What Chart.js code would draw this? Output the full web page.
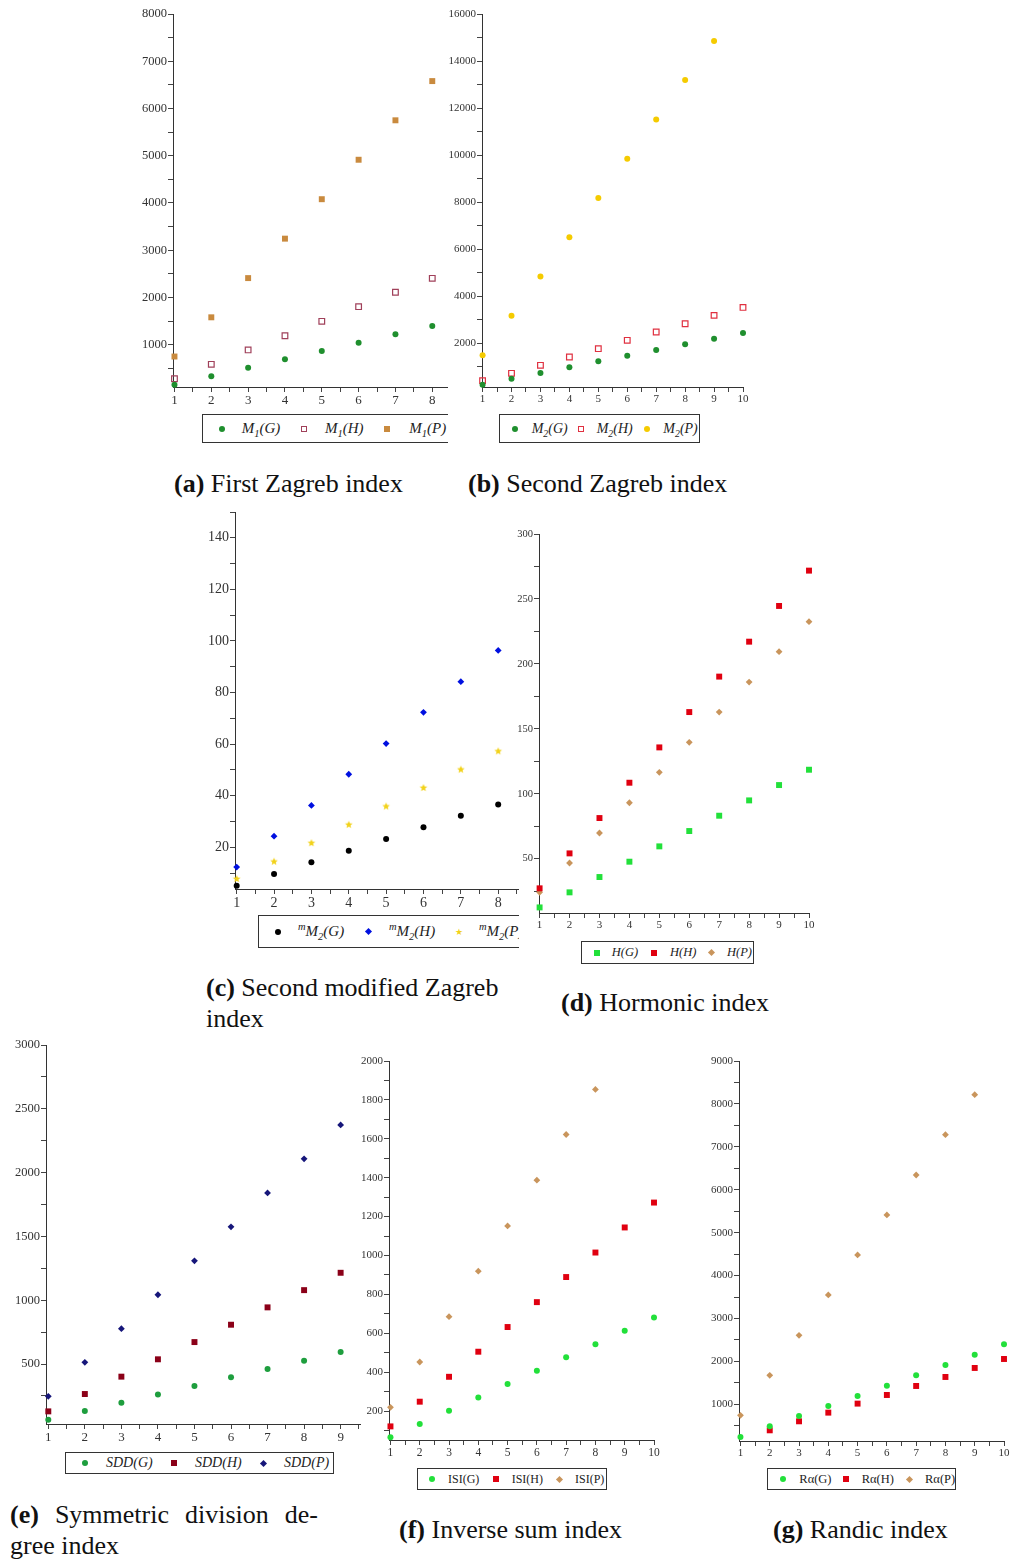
<!DOCTYPE html>
<html>
<head>
<meta charset="utf-8">
<script src="https://cdn.jsdelivr.net/npm/chart.js@4.4.0/dist/chart.umd.min.js"></script>
<style>
body { margin: 0; background: #fff; width: 1026px; height: 1559px; position: relative; overflow: hidden;
       font-family: "Liberation Serif", "Times New Roman", serif; color: #111; }
canvas { position: absolute; }
.cap { position: absolute; font-size: 26px; line-height: 31px; white-space: nowrap; }
.lg { position: absolute; border: 1.3px solid #333; box-sizing: border-box; overflow: hidden; background: #fff; }
.mk { position: absolute; box-sizing: border-box; }
.lt { position: absolute; top: 0; white-space: nowrap; color: #222; }
.sb { position: relative; top: 4px; font-size: 0.7em; }
.sp { position: relative; top: -6px; font-size: 0.7em; }
</style>
</head>
<body>
<script>
// valeurs
var xTicks8 = [1, 2, 3, 4, 5, 6, 7, 8];
var xTicks9 = [1, 2, 3, 4, 5, 6, 7, 8, 9];
var xTicks10 = [1, 2, 3, 4, 5, 6, 7, 8, 9, 10];

var yTicksA = [1000, 2000, 3000, 4000, 5000, 6000, 7000, 8000];
var yTicksB = [2000, 4000, 6000, 8000, 10000, 12000, 14000, 16000];
var yTicksC = [20, 40, 60, 80, 100, 120, 140];
var yTicksD = [50, 100, 150, 200, 250, 300];
var yTicksE = [500, 1000, 1500, 2000, 2500, 3000];
var yTicksF = [200, 400, 600, 800, 1000, 1200, 1400, 1600, 1800, 2000];
var yTicksG = [1000, 2000, 3000, 4000, 5000, 6000, 7000, 8000, 9000];

// (a) First Zagreb
var m1G = [155, 335, 515, 690, 865, 1040, 1220, 1395];
var m1H = [280, 585, 890, 1190, 1495, 1805, 2110, 2405];
var m1P = [750, 1580, 2410, 3245, 4080, 4915, 5750, 6580];
// (b) Second Zagreb
var m2G = [228, 483, 724, 965, 1220, 1461, 1702, 1943, 2184, 2425];
var m2H = [400, 710, 1050, 1405, 1760, 2115, 2470, 2820, 3175, 3515];
var m2P = [1475, 3165, 4835, 6495, 8170, 9840, 11515, 13190, 14850];
// (c) Second modified Zagreb
var mm2G = [5.1, 9.6, 14.2, 18.6, 23.2, 27.7, 32.2, 36.6];
var mm2H = [12.3, 24.3, 36.2, 48.3, 60.2, 72.3, 84.2, 96.3];
var mm2P = [7.7, 14.4, 21.6, 28.7, 35.8, 43.0, 50.1, 57.2];
// (d) Harmonic
var hG = [12.5, 24.1, 35.9, 47.7, 59.5, 71.3, 83.1, 94.9, 106.7, 118.5];
var hH = [27.2, 54.1, 81.3, 108.5, 135.7, 162.9, 190.2, 217.1, 244.6, 271.8];
var hP = [24.1, 46.7, 69.8, 93.1, 116.5, 139.6, 162.9, 186.0, 209.4, 232.5];
// (e) SDD
var sddG = [64, 132, 197, 262, 328, 396, 461, 526, 594];
var sddH = [129, 265, 401, 537, 672, 808, 944, 1079, 1215];
var sddP = [247, 513, 777, 1043, 1309, 1575, 1841, 2108, 2374];
// (f) ISI
var isiG = [65, 133, 202, 270, 339, 407, 476, 544, 613, 681];
var isiH = [121, 248, 376, 505, 632, 760, 889, 1015, 1144, 1272];
var isiP = [219, 452, 685, 919, 1152, 1387, 1622, 1854];
// (g) Randic
var raG = [239, 487, 728, 961, 1194, 1435, 1676, 1917, 2157, 2398];
var raH = [null, 394, 604, 806, 1016, 1217, 1427, 1637, 1847, 2056];
var raP = [744, 1676, 2608, 3548, 4480, 5412, 6344, 7283, 8216];

function pts(arr) {
  var out = [];
  for (var i = 0; i < arr.length; i++) {
    if (arr[i] != null) out.push({ x: i + 1, y: arr[i] });
  }
  return out;
}

function starImg(color, r) {
  var c = document.createElement("canvas");
  var s = Math.ceil(r * 2 + 2);
  c.width = s; c.height = s;
  var g = c.getContext("2d");
  g.fillStyle = color;
  g.beginPath();
  for (var i = 0; i < 10; i++) {
    var rr = i % 2 ? r * 0.45 : r;
    var a = -Math.PI / 2 + i * Math.PI / 5;
    g.lineTo(s / 2 + rr * Math.cos(a), s / 2 + rr * Math.sin(a));
  }
  g.closePath();
  g.fill();
  return c;
}

// ticks majeurs + mineurs (demi-pas)
function buildTicks(major, min, max) {
  var step = major[1] - major[0];
  var vals = [];
  var v0 = major[0] - step / 2;
  var n = major.length * 2 + 2;
  for (var i = 0; i < n; i++) {
    var v = v0 + i * step / 2;
    if (v >= min - 1e-9 && v <= max + 1e-9) vals.push({ value: v });
  }
  return vals;
}

function dataset(d, kind, color) {
  var ds = { data: pts(d), showLine: false, clip: false, borderWidth: 0,
             backgroundColor: color, borderColor: color, pointRadius: 3, pointStyle: "circle" };
  if (kind == "square") { ds.pointStyle = "rect"; ds.pointRadius = 4.2; }
  if (kind == "open") { ds.pointStyle = "rect"; ds.pointRadius = 4.0; ds.backgroundColor = "rgba(0,0,0,0)"; ds.borderWidth = 1.2; }
  if (kind == "diamond") { ds.pointStyle = "rectRot"; ds.pointRadius = 3.4; }
  if (kind == "star") { ds.pointStyle = starImg(color, 4); }
  return ds;
}

function makePanel(p) {
  var padL = 4, padT = 9, padR = 9, padB = 2, yw = 46, xh = 24;
  var left = Math.round(p.axisX - yw - padL);
  var top = Math.round(p.top - padT);
  var w = Math.round(p.right - p.axisX + yw + padL + padR);
  var h = Math.round(p.bottom - p.top + xh + padT + padB);
  var cv = document.createElement("canvas");
  cv.width = w; cv.height = h;
  cv.style.left = left + "px"; cv.style.top = top + "px";
  cv.style.width = w + "px"; cv.style.height = h + "px";
  document.body.appendChild(cv);

  var axisCommon = function (major, min, max, size) {
    return {
      type: "linear", min: min, max: max,
      afterBuildTicks: function (s) { s.ticks = buildTicks(major, min, max); },
      grid: { display: true, drawOnChartArea: false, drawTicks: true, tickLength: 5, color: "#444" },
      border: { display: true, color: "#333", width: 1 },
      ticks: {
        autoSkip: false, maxRotation: 0, padding: 1, color: "#333",
        font: { family: "Liberation Serif", size: size },
        callback: function (v) { return major.indexOf(v) >= 0 ? String(v) : ""; }
      }
    };
  };
  var xs = axisCommon(p.xMajor, p.xMin, p.xMax, p.fontX);
  xs.afterFit = function (s) { s.height = xh; s.paddingLeft = 0; s.paddingRight = 0; };
  var ys = axisCommon(p.yMajor, p.yMin, p.yMax, p.fontY);
  ys.afterFit = function (s) { s.width = yw; s.paddingTop = 0; s.paddingBottom = 0; };

  new Chart(cv.getContext("2d"), {
    type: "scatter",
    data: { datasets: p.series.map(function (s) { return dataset(s[0], s[1], s[2]); }) },
    options: {
      responsive: false, animation: false, devicePixelRatio: 1,
      layout: { padding: { left: padL, top: padT, right: padR, bottom: padB } },
      plugins: { legend: { display: false }, tooltip: { enabled: false } },
      scales: { x: xs, y: ys }
    }
  });
}

function marker(kind, color) {
  var m = document.createElement("div");
  m.className = "mk";
  var s = 6;
  if (kind == "circle") { m.style.borderRadius = "50%"; m.style.background = color; }
  if (kind == "square") { m.style.background = color; }
  if (kind == "open") { m.style.border = "1.2px solid " + color; }
  if (kind == "diamond") { s = 5; m.style.background = color; m.style.transform = "rotate(45deg)"; }
  if (kind == "star") {
    s = 10; m.textContent = "\u2605"; m.style.color = color; m.style.fontSize = "9px";
    m.style.lineHeight = "10px"; m.style.textAlign = "center";
  }
  m.style.width = s + "px"; m.style.height = s + "px";
  m._s = s;
  return m;
}

function makeLegend(L) {
  var box = document.createElement("div");
  box.className = "lg";
  var hgt = L.bottom - L.top;
  box.style.left = L.left + "px"; box.style.top = L.top + "px";
  box.style.width = (L.right - L.left) + "px"; box.style.height = hgt + "px";
  if (L.open) box.style.borderRight = "none";
  document.body.appendChild(box);
  L.items.forEach(function (it) {
    var m = marker(it.kind, it.color);
    m.style.left = (it.mx - L.left - m._s / 2 - 1) + "px";
    m.style.top = (hgt / 2 - m._s / 2 - 1) + "px";
    box.appendChild(m);
    var t = document.createElement("span");
    t.className = "lt";
    t.innerHTML = it.html;
    t.style.left = (it.tx - L.left - 1) + "px";
    t.style.lineHeight = (hgt - 2) + "px";
    t.style.fontSize = L.font + "px";
    if (L.italic) t.style.fontStyle = "italic";
    box.appendChild(t);
  });
}

function caption(x, y, html, extra) {
  var d = document.createElement("div");
  d.className = "cap";
  d.style.left = x + "px"; d.style.top = y + "px";
  d.innerHTML = html;
  if (extra) for (var k in extra) d.style[k] = extra[k];
  document.body.appendChild(d);
}

var green = "#1f8f2e", lime = "#22e03a", red = "#e00010", tan = "#c9955c";

makePanel({ axisX: 173.3, right: 447.3, top: 14.3, bottom: 387.3, xMin: 0.96, xMax: 8.4, yMin: 105, yMax: 8000,
  xMajor: xTicks8, yMajor: yTicksA, fontX: 13, fontY: 12.5,
  series: [[m1G, "circle", green], [m1H, "open", "#a0405a"], [m1P, "square", "#c98a3e"]] });
makePanel({ axisX: 481.7, right: 742.7, top: 14.3, bottom: 387.3, xMin: 0.98, xMax: 10, yMin: 128, yMax: 16000,
  xMajor: xTicks10, yMajor: yTicksB, fontX: 11, fontY: 11,
  series: [[m2G, "circle", green], [m2H, "open", "#e03040"], [m2P, "circle", "#f5cb00"]] });
makePanel({ axisX: 235, right: 518, top: 511.7, bottom: 888.3, xMin: 0.955, xMax: 8.53, yMin: 3.8, yMax: 150,
  xMajor: xTicks8, yMajor: yTicksC, fontX: 14, fontY: 14,
  series: [[mm2G, "circle", "#000"], [mm2H, "diamond", "#0010e0"], [mm2P, "star", "#f2d21a"]] });
makePanel({ axisX: 539.3, right: 809.3, top: 534.3, bottom: 913.3, xMin: 0.98, xMax: 10, yMin: 8.2, yMax: 300,
  xMajor: xTicks10, yMajor: yTicksD, fontX: 11, fontY: 10.5,
  series: [[hG, "square", lime], [hH, "square", red], [hP, "diamond", tan]] });
makePanel({ axisX: 46, right: 360, top: 1045, bottom: 1424.3, xMin: 0.937, xMax: 9.53, yMin: 30, yMax: 3000,
  xMajor: xTicks9, yMajor: yTicksE, fontX: 13, fontY: 12.5,
  series: [[sddG, "circle", "#1e9e3e"], [sddH, "square", "#8b0018"], [sddP, "diamond", "#16167a"]] });
makePanel({ axisX: 389.3, right: 654.3, top: 1060.7, bottom: 1440, xMin: 0.95, xMax: 10, yMin: 51, yMax: 2000,
  xMajor: xTicks10, yMajor: yTicksF, fontX: 11.5, fontY: 11,
  series: [[isiG, "circle", lime], [isiH, "square", red], [isiP, "diamond", tan]] });
makePanel({ axisX: 739.3, right: 1004.3, top: 1060.7, bottom: 1440.7, xMin: 0.95, xMax: 10, yMin: 145, yMax: 9000,
  xMajor: xTicks10, yMajor: yTicksG, fontX: 11, fontY: 11,
  series: [[raG, "circle", lime], [raH, "square", red], [raP, "diamond", tan]] });

makeLegend({ left: 202, top: 414, right: 448, bottom: 443, open: true, italic: true, font: 15, items: [
  { kind: "circle", color: green, mx: 221.7, tx: 241.7, html: "M<span class=sb>1</span>(G)" },
  { kind: "open", color: "#a0405a", mx: 304, tx: 325, html: "M<span class=sb>1</span>(H)" },
  { kind: "square", color: "#c98a3e", mx: 387.3, tx: 409.3, html: "M<span class=sb>1</span>(P)" }] });
makeLegend({ left: 499, top: 414, right: 700, bottom: 443, italic: true, font: 14, items: [
  { kind: "circle", color: green, mx: 515, tx: 531.7, html: "M<span class=sb>2</span>(G)" },
  { kind: "open", color: "#e03040", mx: 580.7, tx: 596.7, html: "M<span class=sb>2</span>(H)" },
  { kind: "circle", color: "#f5cb00", mx: 647.3, tx: 663.3, html: "M<span class=sb>2</span>(P)" }] });
makeLegend({ left: 258, top: 915, right: 519, bottom: 948, open: true, italic: true, font: 15, items: [
  { kind: "circle", color: "#000", mx: 278, tx: 298, html: "<span class=sp>m</span>M<span class=sb>2</span>(G)" },
  { kind: "diamond", color: "#0010e0", mx: 368, tx: 389, html: "<span class=sp>m</span>M<span class=sb>2</span>(H)" },
  { kind: "star", color: "#f2d21a", mx: 459, tx: 479, html: "<span class=sp>m</span>M<span class=sb>2</span>(P)" }] });
makeLegend({ left: 581, top: 941, right: 754, bottom: 964, italic: true, font: 12.5, items: [
  { kind: "square", color: lime, mx: 596.7, tx: 611.7, html: "H(G)" },
  { kind: "square", color: red, mx: 654, tx: 670, html: "H(H)" },
  { kind: "diamond", color: tan, mx: 711.7, tx: 727, html: "H(P)" }] });
makeLegend({ left: 65, top: 1452, right: 334, bottom: 1474, italic: true, font: 14, items: [
  { kind: "circle", color: "#1e9e3e", mx: 85, tx: 106, html: "SDD(G)" },
  { kind: "square", color: "#8b0018", mx: 174, tx: 195, html: "SDD(H)" },
  { kind: "diamond", color: "#16167a", mx: 263.3, tx: 284, html: "SDD(P)" }] });
makeLegend({ left: 417, top: 1468, right: 607, bottom: 1490, italic: false, font: 12, items: [
  { kind: "circle", color: lime, mx: 432.3, tx: 448, html: "ISI(G)" },
  { kind: "square", color: red, mx: 496, tx: 511.7, html: "ISI(H)" },
  { kind: "diamond", color: tan, mx: 559.3, tx: 575, html: "ISI(P)" }] });
makeLegend({ left: 767, top: 1468, right: 956, bottom: 1490, italic: false, font: 12.5, items: [
  { kind: "circle", color: lime, mx: 783.3, tx: 799.3, html: "R\u03b1(G)" },
  { kind: "square", color: red, mx: 846, tx: 861.7, html: "R\u03b1(H)" },
  { kind: "diamond", color: tan, mx: 909, tx: 925, html: "R\u03b1(P)" }] });

caption(174, 467.5, "<b>(a)</b> First Zagreb index");
caption(468, 467.5, "<b>(b)</b> Second Zagreb index");
caption(206, 971.5, "<b>(c)</b> Second modified Zagreb<br>index");
caption(561, 986.5, "<b>(d)</b> Hormonic index");
caption(10, 1498.5, "<b>(e)</b> Symmetric division de-", { width: "308px", textAlignLast: "justify", whiteSpace: "normal" });
caption(10, 1529.5, "gree index");
caption(399, 1513.5, "<b>(f)</b> Inverse sum index");
caption(773, 1513.5, "<b>(g)</b> Randic index");
</script>
</body>
</html>
